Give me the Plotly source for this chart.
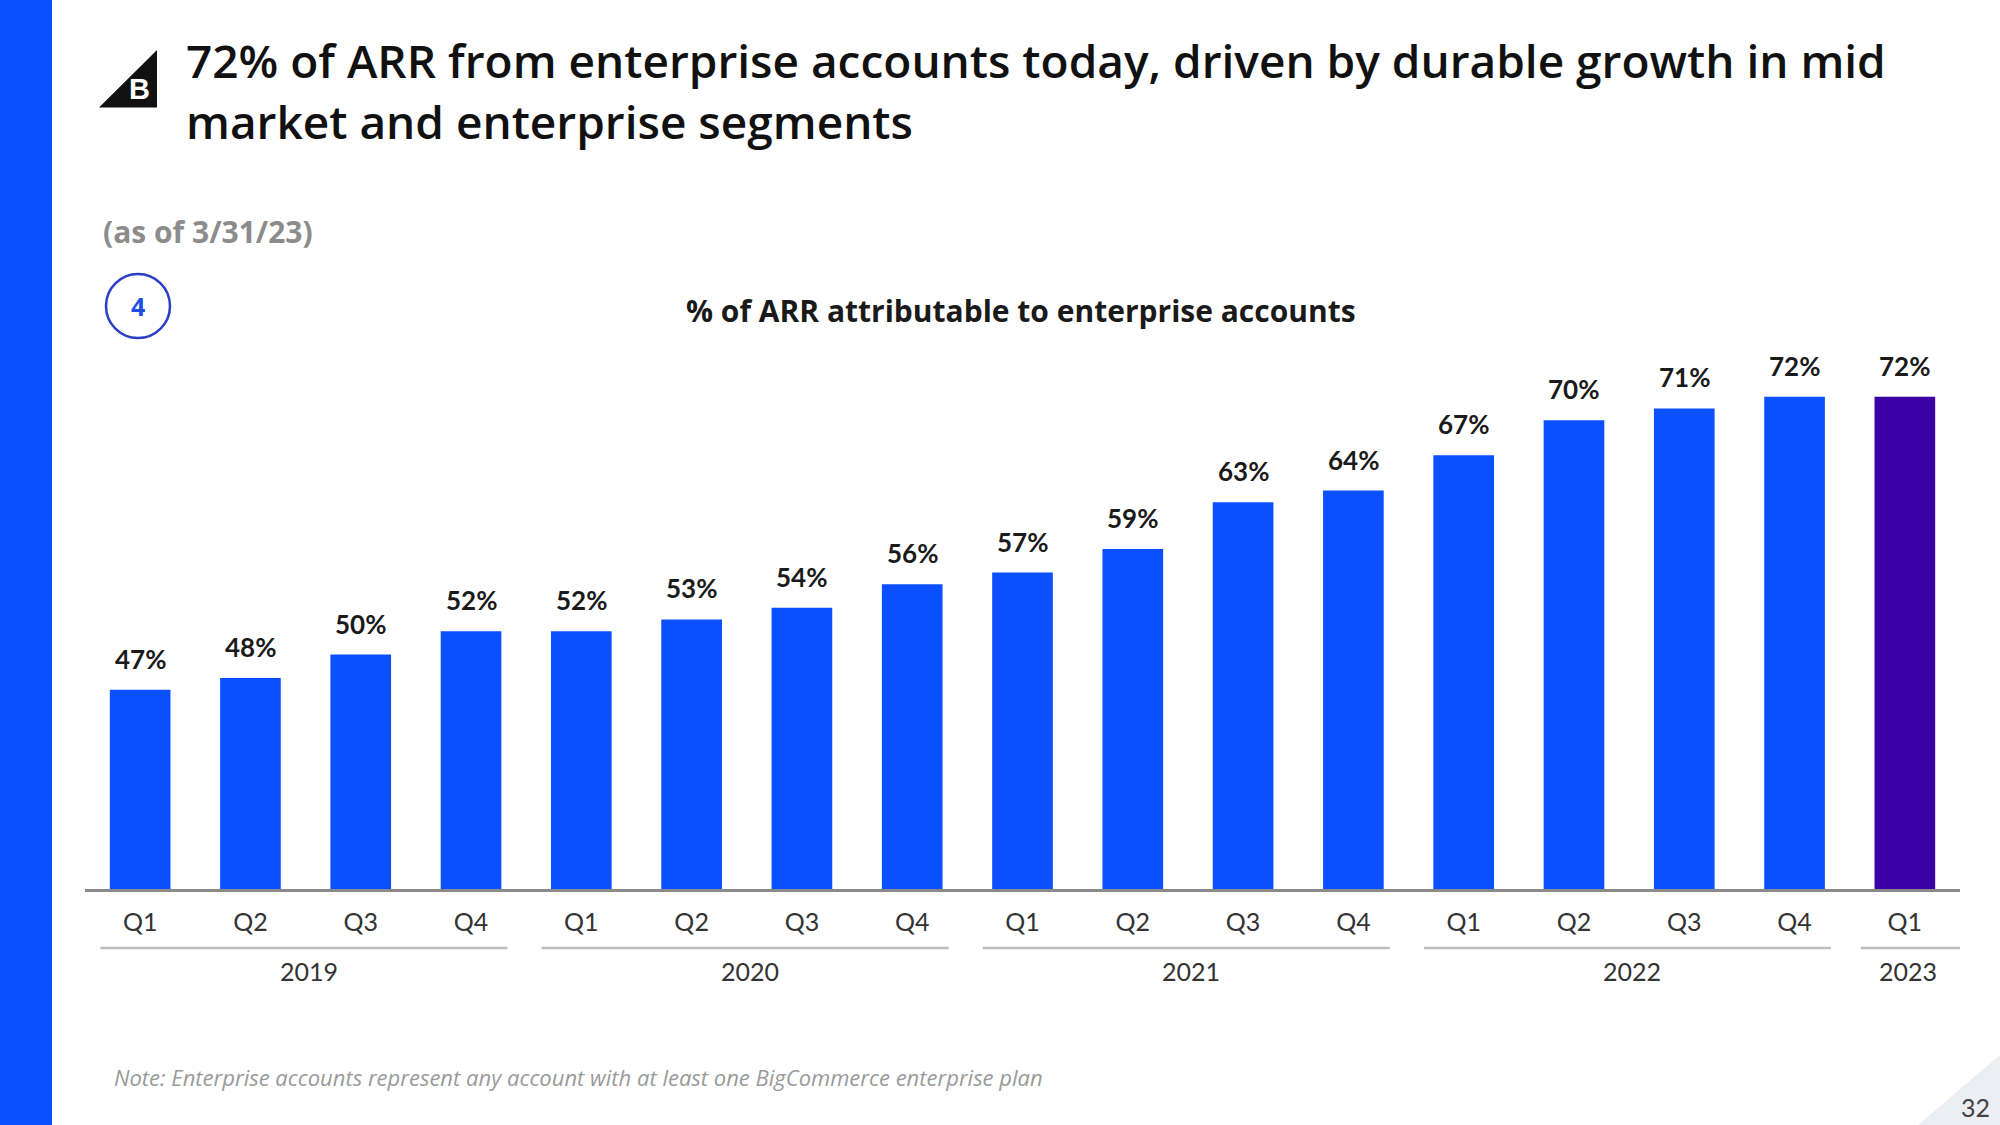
import plotly.graph_objects as go

quarters = ["Q1", "Q2", "Q3", "Q4", "Q1", "Q2", "Q3", "Q4", "Q1", "Q2", "Q3", "Q4",
            "Q1", "Q2", "Q3", "Q4", "Q1"]
values = [47, 48, 50, 52, 52, 53, 54, 56, 57, 59, 63, 64, 67, 70, 71, 72, 72]
labels = ["47%", "48%", "50%", "52%", "52%", "53%", "54%", "56%", "57%", "59%", "63%",
          "64%", "67%", "70%", "71%", "72%", "72%"]
years = ["2019", "2020", "2021", "2022", "2023"]
year_first_idx = [0, 4, 8, 12, 16]
year_last_idx = [3, 7, 11, 15, 16]

W, H = 2000, 1125
BLUE = "#0B50FF"
PURPLE = "#3D00A6"
FONT = "Lato"
FONT2 = "Open Sans"


def px(x):
    return x / W


def py(y):
    return 1 - y / H


idx = list(range(len(values)))
colors = [BLUE] * (len(values) - 1) + [PURPLE]

fig = go.Figure()
fig.add_trace(go.Bar(x=idx, y=values, marker=dict(color=colors, line=dict(width=0)),
                     width=0.55, hoverinfo="skip"))

annotations = []
for i, (v, t) in enumerate(zip(values, labels)):
    annotations.append(dict(x=i, y=v, xref="x", yref="y", text="<b>%s</b>" % t,
                            showarrow=False, xanchor="center", yanchor="bottom", yshift=13,
                            font=dict(family=FONT, size=26, color="#1a1a1a")))

shapes = []
y_line = py(948)
for k, yr in enumerate(years):
    a = year_first_idx[k]
    b = year_last_idx[k]
    x0 = a - 0.36
    x1 = b + 0.33 if b < 16 else 16.5
    if a == 16:
        x0 = 15.6
    shapes.append(dict(type="line", xref="x", yref="paper", x0=x0, x1=x1, y0=y_line, y1=y_line,
                       line=dict(color="#bdbdbd", width=2.5)))
    annotations.append(dict(x=(a + b) / 2 + 0.03, y=py(971), xref="x", yref="paper", text=yr,
                            showarrow=False, xanchor="center", yanchor="middle",
                            font=dict(family=FONT, size=25, color="#333333")))

# left blue strip
shapes.append(dict(type="rect", xref="paper", yref="paper", x0=0, x1=px(52), y0=0, y1=1,
                   fillcolor=BLUE, line=dict(width=0), layer="below"))
# bottom right triangle
shapes.append(dict(type="path", xref="paper", yref="paper",
                   path="M %f,%f L %f,%f L %f,%f Z" % (px(1918), 0, 1, 0, 1, py(1055)),
                   fillcolor="#eceef3", line=dict(width=0), layer="below"))
# logo triangle
shapes.append(dict(type="path", xref="paper", yref="paper",
                   path="M %f,%f L %f,%f L %f,%f Z" % (px(157), py(50), px(99), py(107.5),
                                                        px(157), py(107.5)),
                   fillcolor="#111111", line=dict(width=0)))
# circle
shapes.append(dict(type="circle", xref="paper", yref="paper",
                   x0=px(138 - 32), x1=px(138 + 32), y0=py(306 + 32), y1=py(306 - 32),
                   line=dict(color="#2b3fc4", width=2.5)))

annotations += [
    dict(x=px(139), y=py(89), xref="paper", yref="paper", text="<b>B</b>", showarrow=False,
         xanchor="center", yanchor="middle",
         font=dict(family="Liberation Sans", size=29, color="white")),
    dict(x=px(184), y=py(60), xref="paper", yref="paper", xanchor="left", yanchor="middle",
         text="72% of ARR from enterprise accounts today, driven by durable growth in mid",
         showarrow=False, font=dict(family=FONT2, size=46, color="#111111", weight=600)),
    dict(x=px(184), y=py(121), xref="paper", yref="paper", xanchor="left", yanchor="middle",
         text="market and enterprise segments",
         showarrow=False, font=dict(family=FONT2, size=46, color="#111111", weight=600)),
    dict(x=px(101), y=py(231), xref="paper", yref="paper", xanchor="left", yanchor="middle",
         text="<b>(as of 3/31/23)</b>", showarrow=False,
         font=dict(family=FONT2, size=30, color="#8c8c8c")),
    dict(x=px(138), y=py(306), xref="paper", yref="paper", text="<b>4</b>", showarrow=False,
         xanchor="center", yanchor="middle",
         font=dict(family=FONT2, size=25, color="#1e4fe6")),
    dict(x=px(1021), y=py(310), xref="paper", yref="paper", xanchor="center", yanchor="middle",
         text="<b>% of ARR attributable to enterprise accounts</b>", showarrow=False,
         font=dict(family=FONT2, size=30, color="#1a1a1a")),
    dict(x=px(112), y=py(1077), xref="paper", yref="paper", xanchor="left", yanchor="middle",
         text="<i>Note: Enterprise accounts represent any account with at least one BigCommerce enterprise plan</i>",
         showarrow=False, font=dict(family=FONT2, size=22, color="#9a9a9a")),
    dict(x=px(1975), y=py(1107), xref="paper", yref="paper", xanchor="center", yanchor="middle",
         text="32", showarrow=False, font=dict(family=FONT, size=25, color="#444444")),
]

fig.update_layout(
    width=W, height=H,
    margin=dict(l=0, r=0, t=0, b=0),
    paper_bgcolor="white", plot_bgcolor="white",
    showlegend=False,
    bargap=0.45,
    xaxis=dict(domain=[px(85), px(1960)], range=[-0.5, 16.5], tickmode="array",
               tickvals=idx, ticktext=quarters, showgrid=False, zeroline=False,
               showline=True, linecolor="#8a8a8a", linewidth=3,
               ticks="", ticklabelstandoff=9,
               tickfont=dict(family=FONT, size=25, color="#333333")),
    yaxis=dict(domain=[py(889), py(303)], range=[30, 80], visible=False,
               showgrid=False, zeroline=False),
    shapes=shapes,
    annotations=annotations,
)

fig.write_html("out.html", config={"displayModeBar": False},
               post_script="document.body.style.margin='0';")
